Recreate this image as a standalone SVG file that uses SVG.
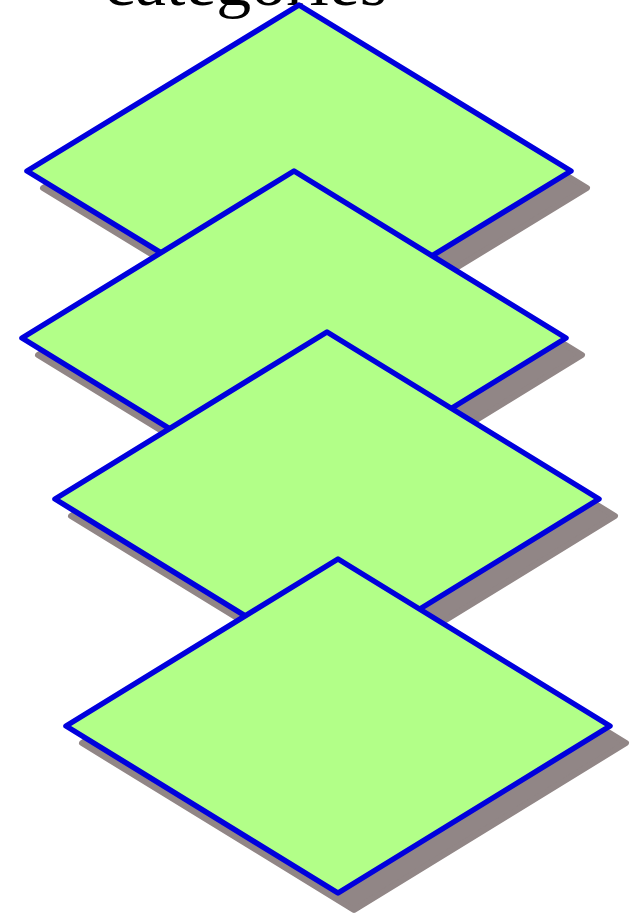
<svg xmlns="http://www.w3.org/2000/svg" width="642" height="916" viewBox="0 0 642 916">
<style>
.shadow{fill:#918686;stroke:#918686;stroke-width:6;stroke-linejoin:round}
.face{fill:#b2ff88;stroke:#0000dd;stroke-width:5.5;stroke-linejoin:round}
.title{font-family:"Liberation Serif","DejaVu Serif",serif;font-size:66px;fill:#000}
</style>
<text class="title" x="104" y="5" textLength="283" lengthAdjust="spacingAndGlyphs">categories</text>
<g id="layer1">
<polygon class="shadow" transform="translate(16,17)" points="299,5 571,171 299,337 27,171"/>
<polygon class="face" points="299,5 571,171 299,337 27,171"/>
</g>
<g id="layer2">
<polygon class="shadow" transform="translate(16,17)" points="294,171 566,338 294,505 22,338"/>
<polygon class="face" points="294,171 566,338 294,505 22,338"/>
</g>
<g id="layer3">
<polygon class="shadow" transform="translate(16,17)" points="327,332 599,499 327,666 55,499"/>
<polygon class="face" points="327,332 599,499 327,666 55,499"/>
</g>
<g id="layer4">
<polygon class="shadow" transform="translate(16,17)" points="338,559 610,726 338,893 66,726"/>
<polygon class="face" points="338,559 610,726 338,893 66,726"/>
</g>
<g id="connectors"/>
</svg>
